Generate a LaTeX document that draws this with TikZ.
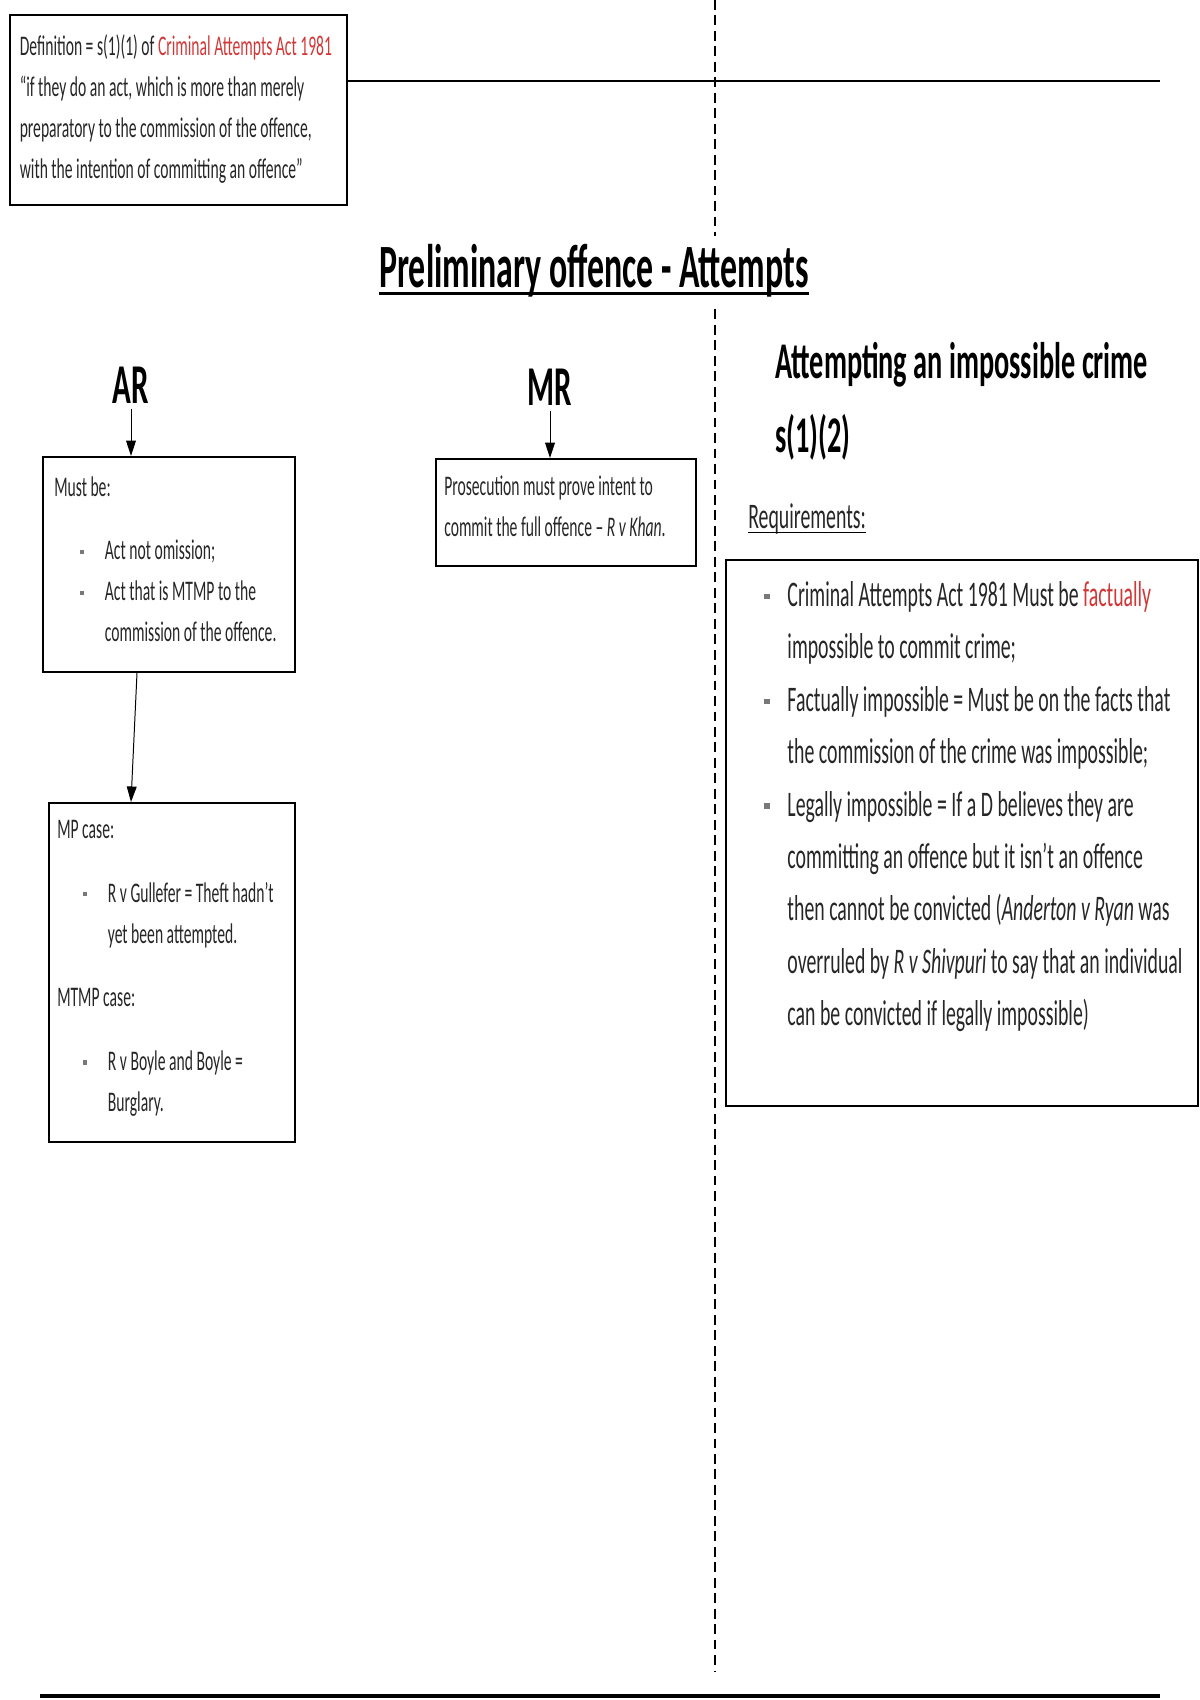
\documentclass[tikz,border=0pt]{standalone}
\usepackage{fontspec}
\setmainfont{Carlito}[FakeStretch=0.55]
\usepackage{xcolor}
\definecolor{lawred}{RGB}{210,55,55}
\definecolor{lawtext}{RGB}{38,38,38}
\definecolor{lawgray}{RGB}{120,120,120}
\usetikzlibrary{arrows.meta, calc}

\newcommand{\lawbul}{\textcolor{lawgray}{\rule[0.2em]{0.15em}{0.15em}}}
\newcommand{\lawitem}{\makebox[36pt][l]{\hspace*{18pt}\lawbul}}
\newcommand{\lawskip}{\hspace*{36pt}}
\newcommand{\lawitemr}{\makebox[16.5pt][l]{\lawbul}}
\newcommand{\lawskipr}{\hspace*{16.5pt}}

\begin{document}
\begin{tikzpicture}[x=0.025cm, y=-0.025cm,
  lawbox/.style={draw=black, line width=1.4pt, inner sep=0pt},
  boxtxt/.style={font=\fontsize{20.2pt}{29.2pt}\selectfont, text=lawtext, align=left, anchor=north west, inner sep=0pt},
  bigtxt/.style={font=\fontsize{25.6pt}{37.3pt}\selectfont, text=lawtext, align=left, anchor=north west, inner sep=0pt},
  colhead/.style={font=\fontsize{40pt}{46pt}\selectfont\bfseries, anchor=base, inner sep=0pt},
  link/.style={-{Triangle[length=11pt,width=7pt]}, line width=0.7pt}]
  \useasboundingbox (0,0) rectangle (1200,1700);

  % Divider
  \coordinate (divtop) at (715,0);
  \coordinate (divbot) at (715,1672);
  \draw[dash pattern=on 7pt off 4pt, line width=0.8pt] (divtop) -- (divbot);

  % Definition
  \node[lawbox, minimum width=8.425cm, minimum height=4.75cm] (defbox) at (178.5,110) {};
  \node[boxtxt] (deftext) at (19.5,34) {Definition = s(1)(1) of \textcolor{lawred}{Criminal Attempts Act 1981}\\
    “if they do an act, which is more than merely\\
    preparatory to the commission of the offence,\\
    with the intention of committing an offence”};
  \coordinate (ruleend) at (1160,81);
  \draw[line width=1.6pt] (ruleend -| defbox.east) -- (ruleend);

  % Title
  \node[font=\fontsize{43.8pt}{52pt}\selectfont\bfseries, fill=white, inner xsep=0pt, inner ysep=6pt, anchor=base]
       (title) at (594,288) {Preliminary offence - Attempts};
  \draw[line width=2pt] ([yshift=-4pt]title.base west) -- ([yshift=-4pt]title.base east);

  % AR
  \node[colhead] (ar) at (131,403) {AR};
  \node[lawbox, minimum width=6.3cm, minimum height=5.375cm] (arbox) at (169,564.5) {};
  \draw[link, shorten <=4pt] (ar) -- (ar |- arbox.north);
  \node[boxtxt] (artext) at (54,476) {Must be:\\[16pt]
    \lawitem Act not omission;\\
    \lawitem Act that is MTMP to the\\
    \lawskip commission of the offence.};

  % MR
  \node[colhead] (mr) at (550,405) {MR};
  \node[lawbox, minimum width=6.5cm, minimum height=2.675cm] (mrbox) at (566,512.5) {};
  \draw[link, shorten <=4pt] (mr) -- (mr |- mrbox.north);
  \node[boxtxt] (mrtext) at (444,476) {Prosecution must prove intent to\\
    commit the full offence – \textit{R v Khan}.};

  % MP / MTMP cases
  \node[lawbox, minimum width=6.15cm, minimum height=8.475cm] (mpbox) at (172,972.5) {};
  \draw[link] ($(arbox.south)+(-32,0)$) -- ($(mpbox.north)+(-41,0)$);
  \node[boxtxt] (mptext) at (57,820) {MP case:\\[16pt]
    \lawitem R v Gullefer = Theft hadn't\\
    \lawskip yet been attempted.\\[16pt]
    MTMP case:\\[16pt]
    \lawitem R v Boyle and Boyle =\\
    \lawskip Burglary.};

  % Impossible crime
  \node[font=\fontsize{36.6pt}{52.5pt}\selectfont\bfseries, align=left, anchor=north west, inner sep=0pt]
       (imphead) at (775,342) {Attempting an impossible crime\\ s(1)(2)};
  \node[font=\fontsize{25.6pt}{30pt}\selectfont, text=lawtext, anchor=base west, inner sep=0pt]
       (req) at (748,528) {Requirements:};
  \draw[line width=1pt] ([yshift=-3pt]req.base west) -- ([yshift=-3pt]req.base east);
  \node[lawbox, minimum width=11.8cm, minimum height=13.65cm] (impbox) at (962,833) {};
  \node[bigtxt] (imptext) at (764,581) {\lawitemr Criminal Attempts Act 1981 Must be \textcolor{lawred}{factually}\\
    \lawskipr impossible to commit crime;\\
    \lawitemr Factually impossible = Must be on the facts that\\
    \lawskipr the commission of the crime was impossible;\\
    \lawitemr Legally impossible = If a D believes they are\\
    \lawskipr committing an offence but it isn't an offence\\
    \lawskipr then cannot be convicted (\textit{Anderton v Ryan} was\\
    \lawskipr overruled by \textit{R v Shivpuri} to say that an individual\\
    \lawskipr can be convicted if legally impossible)};

  % Bottom rule
  \coordinate (footl) at (40,1696);
  \coordinate (footr) at (1160,1696);
  \draw[line width=2.5pt] (footl) -- (footr);
\end{tikzpicture}
\end{document}
